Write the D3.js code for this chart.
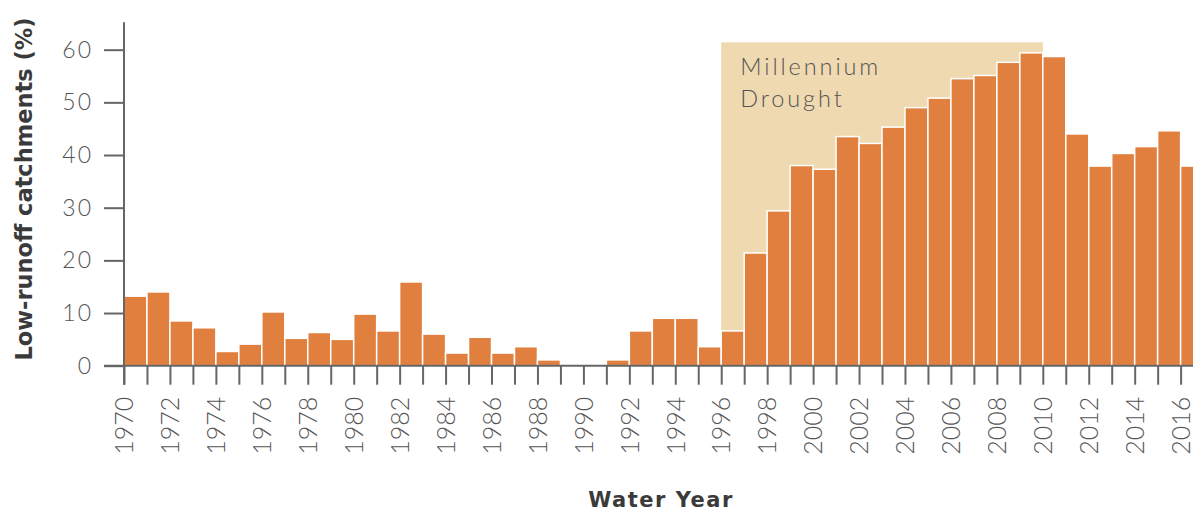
<!DOCTYPE html>
<html>
<head>
<meta charset="utf-8">
<script src="https://cdn.jsdelivr.net/npm/d3@7"></script>
<style>
  html, body { margin: 0; padding: 0; background: #fff; }
  svg { display: block; }
</style>
</head>
<body>
<svg id="chart" width="1193" height="512"></svg>
<script>
const years = d3.range(1970, 2017);
const values = [
  13.2, 14.0, 8.5, 7.2, 2.7, 4.1, 10.2, 5.2, 6.3, 5.0,
  9.8, 6.6, 15.9, 6.0, 2.4, 5.4, 2.4, 3.6, 1.1, 0,
  0, 1.1, 6.6, 9.0, 9.0, 3.6, 6.6, 21.4, 29.4, 38.0,
  37.3, 43.5, 42.2, 45.3, 49.0, 50.8, 54.5, 55.1, 57.6, 59.4,
  58.7, 44.0, 37.9, 40.3, 41.6, 44.6, 37.9
];
const yTicks = [0, 10, 20, 30, 40, 50, 60];
const drought = { start: 1996, end: 2010, top: 61.4, label: ["Millennium", "Drought"] };
const yTitle = "Low-runoff catchments (%)";
const xTitle = "Water Year";

const plotLeft = 124, step = 22.97, plotBase = 365.7, plotTop = 22.3;
const lightFont = "Lato, 'Open Sans', sans-serif";
const boldFont = "'DejaVu Sans', Lato, sans-serif";
const svg = d3.select("#chart");

const x = d3.scaleBand().domain(years).range([plotLeft, plotLeft + years.length * step]).paddingInner(0).paddingOuter(0);
const xLin = d3.scaleLinear().domain([1970, 1970 + years.length]).range([plotLeft, plotLeft + years.length * step]);
const y = d3.scaleLinear().domain([0, 65]).range([plotBase, plotBase - 65 * 5.267]);

// drought shading
svg.append("rect")
  .attr("x", xLin(drought.start))
  .attr("y", y(drought.top))
  .attr("width", xLin(drought.end) - xLin(drought.start))
  .attr("height", y(0) - y(drought.top))
  .attr("fill", "#EFD9B0");

const lbl = svg.append("text")
  .attr("x", xLin(drought.start) + 19)
  .attr("y", 75)
  .attr("fill", "#555")
  .style("font-family", lightFont)
  .style("font-size", "23.5px")
  .style("font-weight", 300)
  .style("letter-spacing", "2.9px");
drought.label.forEach((t, i) => {
  lbl.append("tspan").attr("x", xLin(drought.start) + 19).attr("dy", i === 0 ? 0 : 31.5).text(t);
});

// bars
const data = years.map((yr, i) => ({ yr, v: values[i] }));
svg.append("g").selectAll("rect").data(data.filter(d => d.v > 0)).join("rect")
  .attr("x", d => x(d.yr))
  .attr("y", d => y(d.v))
  .attr("width", x.bandwidth())
  .attr("height", d => y(0) - y(d.v))
  .attr("fill", "#E07F3E")
  .attr("stroke", "#fff")
  .attr("stroke-width", 1.5);

// x axis
const xAxis = d3.axisBottom(xLin)
  .tickValues(years)
  .tickSize(19)
  .tickFormat(d => (d % 2 === 0 ? d : ""));
const gx = svg.append("g").attr("transform", `translate(0,${plotBase})`).call(xAxis);
gx.select(".domain").remove();
gx.selectAll(".tick line").attr("stroke", "#666").attr("stroke-width", 2);
gx.selectAll(".tick text")
  .attr("transform", "translate(0,31) rotate(-90)")
  .attr("x", 0).attr("y", 0).attr("dy", "0.35em")
  .attr("text-anchor", "end")
  .attr("fill", "#555")
  .style("font-family", lightFont)
  .style("font-size", "25px")
  .style("font-weight", 300);

// y axis
const yAxis = d3.axisLeft(y).tickValues(yTicks).tickSize(20).tickPadding(11);
const gy = svg.append("g").attr("transform", `translate(${plotLeft},0)`).call(yAxis);
gy.select(".domain").remove();
gy.selectAll(".tick line").attr("stroke", "#666").attr("stroke-width", 2);
gy.selectAll(".tick text")
  .attr("fill", "#555")
  .style("font-family", lightFont)
  .style("font-size", "23px")
  .style("font-weight", 300)
  .style("letter-spacing", "2px");

// axis lines
svg.append("line").attr("x1", plotLeft).attr("x2", plotLeft).attr("y1", plotTop).attr("y2", plotBase + 19)
  .attr("stroke", "#666").attr("stroke-width", 2);
svg.append("line").attr("x1", plotLeft - 20).attr("x2", 1193).attr("y1", plotBase).attr("y2", plotBase)
  .attr("stroke", "#666").attr("stroke-width", 2);

// titles
svg.append("text")
  .attr("transform", `translate(32,${(13 + 365) / 2}) rotate(-90)`)
  .attr("text-anchor", "middle")
  .attr("fill", "#3a3a3a")
  .style("font-family", boldFont)
  .style("font-size", "22.5px")
  .style("font-weight", 700)
  .text(yTitle);

svg.append("text")
  .attr("x", 661).attr("y", 507)
  .attr("text-anchor", "middle")
  .attr("fill", "#3a3a3a")
  .style("font-family", boldFont)
  .style("font-size", "21px")
  .style("font-weight", 700)
  .style("letter-spacing", "1.5px")
  .text(xTitle);
</script>
</body>
</html>
